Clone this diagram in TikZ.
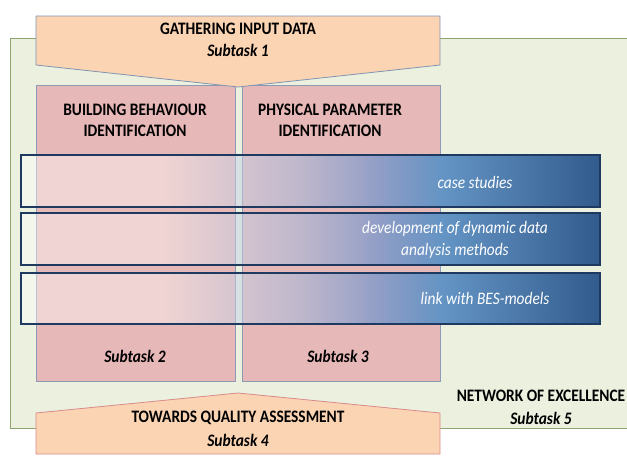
\documentclass[tikz,border=0pt]{standalone}
\usepackage{fontspec}
\setmainfont{Carlito}[FakeStretch=0.88]
\usetikzlibrary{fadings}
\definecolor{bggreen}{HTML}{EBF1DE}
\definecolor{bgline}{HTML}{8EA46E}
\definecolor{peach}{HTML}{FBD4B4}
\definecolor{peachline}{HTML}{8194B2}
\definecolor{peachline2}{HTML}{D98A8A}
\definecolor{boxpink}{HTML}{E6B8B7}
\definecolor{boxline}{HTML}{8D9AB3}
\definecolor{lightblue}{HTML}{6584C0}
\definecolor{midblue}{HTML}{6394C4}
\definecolor{bandblue}{HTML}{325B8D}
\definecolor{bandline}{HTML}{1E3A60}
% colour and fade of the bands (the band is mapped on 25bp--75bp)
\pgfdeclarehorizontalshading{bandcolor}{100bp}{color(0bp)=(lightblue); color(55bp)=(lightblue); color(61.5bp)=(midblue); color(75bp)=(bandblue); color(100bp)=(bandblue)}
\pgfdeclarehorizontalshading{bandfadeshade}{100bp}{color(0bp)=(black); color(37.5bp)=(black); color(49bp)=(white!35!black); color(53.5bp)=(white!55!black); color(57.5bp)=(white!78!black); color(61.5bp)=(white); color(100bp)=(white)}
\pgfdeclarefading{bandfade}{\pgfuseshading{bandfadeshade}}
\tikzset{
  head/.style={font=\bfseries\fontsize{17.5}{21}\selectfont, align=center},
  sub/.style={font=\bfseries\itshape\fontsize{17.5}{21}\selectfont},
  bandtext/.style={font=\itshape\fontsize{17.5}{22}\selectfont, text=white, align=center},
  box/.style={fill=boxpink, draw=boxline, line width=0.8pt},
  band/.style={draw=bandline, line width=1.2pt}
}
\begin{document}
\begin{tikzpicture}[x=1pt,y=-1pt]
	\useasboundingbox (0,0) rectangle (627,456);
	\clip (0,0) rectangle (627,456);
	% network of excellence
	\fill[bggreen, draw=bgline, line width=0.8pt] (10,38) rectangle (640,428);
	% subtask 2 and 3
	\draw[box] (36,85) rectangle (235,381);
	\draw[box] (242,85) rectangle (440,381);
	% subtask 1
	\fill[peach, draw=peachline, line width=0.8pt] (36,16) -- (440,16) -- (440,65) -- (238,87) -- (36,65) -- cycle;
	% subtask 4
	\fill[peach, draw=peachline2, line width=0.8pt] (36,413) -- (238,393) -- (440,413) -- (440,454) -- (36,454) -- cycle;
	% bands
	\foreach \ya/\yb in {155/207, 213/265, 273/324}{
		\fill[white, opacity=0.4] (21,\ya) rectangle (600,\yb);
		\shade[shading=bandcolor, path fading=bandfade] (21,\ya) rectangle (600,\yb);
		\draw[band] (21,\ya) rectangle (600,\yb);
	}
	\node[head] (gather) at (238,29) {GATHERING INPUT DATA};
	\node[sub] (sub1) at (238,50) {Subtask 1};
	\node[head] (bbi) at (135,120) {BUILDING BEHAVIOUR\\IDENTIFICATION};
	\node[head] (ppi) at (330,120) {PHYSICAL PARAMETER\\IDENTIFICATION};
	\node[bandtext] (case) at (475,182) {case studies};
	\node[bandtext] (dev) at (455,240) {development of dynamic data\\analysis methods};
	\node[bandtext] (link) at (485,298) {link with BES-models};
	\node[sub] (sub2) at (135,356) {Subtask 2};
	\node[sub] (sub3) at (338,356) {Subtask 3};
	\node[head] (noe) at (541,396) {NETWORK OF EXCELLENCE};
	\node[sub] (sub5) at (541,418) {Subtask 5};
	\node[head] (towards) at (238,418) {TOWARDS QUALITY ASSESSMENT};
	\node[sub] (sub4) at (238,440) {Subtask 4};
\end{tikzpicture}
\end{document}
